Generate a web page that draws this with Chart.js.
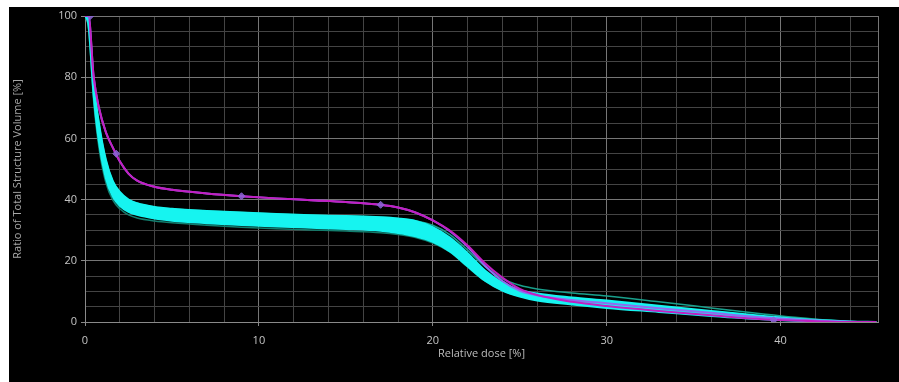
<!DOCTYPE html>
<html>
<head>
<meta charset="utf-8">
<script src="https://cdn.jsdelivr.net/npm/chart.js@4.4.1/dist/chart.umd.min.js"></script>
<style>
  html, body { margin: 0; padding: 0; background: #fff; }
  #panel { position: absolute; left: 9px; top: 7px; width: 890px; height: 375px; background: #000; overflow: hidden; }
  #dvh { position: absolute; left: 0; top: -12px; }
</style>
</head>
<body>
<div id="panel"><canvas id="dvh" width="890" height="387"></canvas></div>
<script>
// relative dose [%] sampled along each curve
const dose = [0, 0.2, 0.5, 0.8, 1.2, 1.6, 2, 2.5, 3, 4, 5, 7, 9, 11, 13, 15, 17, 18, 19, 20,
              21, 22, 23, 24, 25, 26, 28, 30, 33, 36, 39, 42, 44, 45.5];

// volume [%] per structure
const cyanUpper = [100, 99, 78, 65, 53, 46, 42.5, 40, 38.8, 37.6, 37, 36.3, 35.8, 35.3, 34.9, 34.6, 34.2, 33.8, 33, 31,
                   27.5, 22.5, 16.8, 12.8, 10.5, 9.3, 8, 7, 5.3, 3.6, 2, 0.7, 0.2, 0];
const cyanLower = [100, 97, 74, 59, 47, 41, 38, 36, 35, 33.8, 33.1, 32.3, 31.7, 31.2, 30.8, 30.4, 29.8, 29.1, 28, 26.2,
                   23, 18.2, 13.5, 10.3, 8.3, 7, 5.7, 4.6, 3.3, 2, 0.9, 0.2, 0, 0];
const tealLower = [100, 96, 72, 57, 45.5, 39.8, 37, 35, 34, 33, 32.4, 31.6, 31, 30.5, 30.1, 29.7, 29.2, 28.6, 27.6, 25.8,
                   22.8, 18, 13.4, 10.3, 8.4, 7.2, 6, 5, 3.8, 2.6, 1.4, 0.4, 0.1, 0];
const tealUpper = [100, 99, 78, 65, 53, 46, 42.5, 40, 38.8, 37.6, 37, 36.3, 35.8, 35.3, 34.9, 34.6, 34.2, 33.8, 33.1, 31.6,
                   28.5, 23.5, 18.2, 14.2, 12, 10.8, 9.5, 8.5, 6.6, 4.6, 2.6, 0.9, 0.2, 0];
const magentaVol = [100, 100, 80, 70, 62, 57, 52.5, 48.5, 46.2, 44.2, 43.2, 42, 41.1, 40.4, 39.8, 39.2, 38.3, 37.4, 35.8, 33.2,
                    29.8, 25, 19.2, 14.5, 10.8, 8.8, 6.6, 5.2, 3.6, 2.2, 0.9, 0.25, 0, 0];
const violetVol = [100, 100, 80, 70, 62, 57, 52.5, 48.5, 46.2, 44.2, 43.2, 42, 41.1, 40.4, 39.8, 39.2, 38.3, 37.4, 35.8, 33.2,
                   29.6, 24.6, 18.4, 13.4, 10.2, 8.7, 7.2, 6.1, 4.5, 3, 1.5, 0.5, 0.1, 0];

// dose/volume markers on the magenta curve
const markerDose = [0.3, 1.8, 9, 17, 39.6];
const markerVol = [100, 55, 41.1, 38.3, 0.6];

const doseMax = 45.6;
const xTicks = [0, 2, 4, 6, 8, 10, 12, 14, 16, 18, 20, 22, 24, 26, 28, 30, 32, 34, 36, 38, 40, 42, 44, doseMax];
const yTicks = [0, 5, 10, 15, 20, 25, 30, 35, 40, 45, 50, 55, 60, 65, 70, 75, 80, 85, 90, 95, 100];

const toPoints = vals => dose.map((d, i) => ({ x: d, y: vals[i] }));

Chart.defaults.font.family = '"Open Sans", "DejaVu Sans", sans-serif';
Chart.defaults.font.size = 11;
Chart.defaults.color = '#bdbdbd';

const lineOpts = { pointRadius: 0, cubicInterpolationMode: 'monotone', fill: false };

const dvhChart = new Chart(document.getElementById('dvh'), {
  type: 'line',
  data: {
    datasets: [{
      type: 'scatter',
      data: markerDose.map((d, i) => ({ x: d, y: markerVol[i] })),
      backgroundColor: 'rgba(140, 100, 215, 0.85)',
      borderColor: 'rgba(140, 100, 215, 0.85)',
      pointRadius: 3.5,
      pointStyle: 'rectRot',
      showLine: false,
      order: 0
    }, {
      ...lineOpts,
      data: toPoints(magentaVol),
      borderColor: '#c21fc2',
      borderWidth: 2,
      order: 1
    }, {
      ...lineOpts,
      data: toPoints(violetVol),
      borderColor: '#8e6cf0',
      borderWidth: 2,
      order: 2
    }, {
      ...lineOpts,
      data: toPoints(cyanUpper),
      borderColor: '#16f4f0',
      backgroundColor: '#16f4f0',
      borderWidth: 2,
      fill: '+1',
      order: 3
    }, {
      ...lineOpts,
      data: toPoints(cyanLower),
      borderColor: '#16f4f0',
      borderWidth: 2,
      order: 4
    }, {
      ...lineOpts,
      data: toPoints(tealUpper),
      borderColor: '#18a08c',
      borderWidth: 1.5,
      order: 5
    }, {
      ...lineOpts,
      data: toPoints(tealLower),
      borderColor: '#127e6e',
      borderWidth: 1.5,
      order: 6
    }]
  },
  options: {
    responsive: false,
    animation: false,
    layout: { padding: { left: 0, right: 21, top: 0, bottom: 0 } },
    plugins: { legend: { display: false }, tooltip: { enabled: false } },
    scales: {
      x: {
        type: 'linear',
        min: 0,
        max: doseMax,
        afterBuildTicks: s => { s.ticks = xTicks.map(v => ({ value: v })); },
        afterFit: s => { s.height = 60; },
        grid: {
          color: c => (c.tick.value % 10 === 0 || c.tick.value === doseMax) ? '#767676' : '#444',
          tickColor: c => c.tick.value % 10 === 0 ? '#888' : 'transparent',
          tickLength: 4
        },
        border: { color: '#8a8a8a' },
        ticks: {
          autoSkip: false,
          maxRotation: 0,
          padding: 8,
          color: '#c4c4c4',
          callback: v => v % 10 === 0 ? v : ''
        },
        title: {
          display: true,
          text: 'Relative dose [%]',
          color: '#bdbdbd',
          padding: { top: 0, bottom: 22 }
        }
      },
      xTop: {
        type: 'linear',
        position: 'top',
        min: 0,
        max: doseMax,
        afterBuildTicks: s => { s.ticks = xTicks.map(v => ({ value: v })); },
        afterFit: s => { s.height = 21; },
        grid: { display: false },
        border: { display: false },
        ticks: {
          autoSkip: false,
          maxRotation: 0,
          padding: 4,
          color: '#c4c4c4',
          callback: v => v % 10 === 0 ? v : ''
        }
      },
      y: {
        min: 0,
        max: 100,
        afterBuildTicks: s => { s.ticks = yTicks.map(v => ({ value: v })); },
        afterFit: s => { s.width = 76; },
        grid: {
          color: c => c.tick.value % 20 === 0 ? '#767676' : '#444',
          tickColor: c => c.tick.value % 20 === 0 ? '#888' : 'transparent',
          tickLength: 4
        },
        border: { color: '#8a8a8a' },
        ticks: {
          autoSkip: false,
          padding: 4,
          color: '#c4c4c4',
          callback: v => v % 20 === 0 ? v : ''
        },
        title: {
          display: true,
          text: 'Ratio of Total Structure Volume [%]',
          color: '#a8a8a8',
          padding: { top: 2, bottom: 0 }
        }
      }
    }
  }
});
</script>
</body>
</html>
